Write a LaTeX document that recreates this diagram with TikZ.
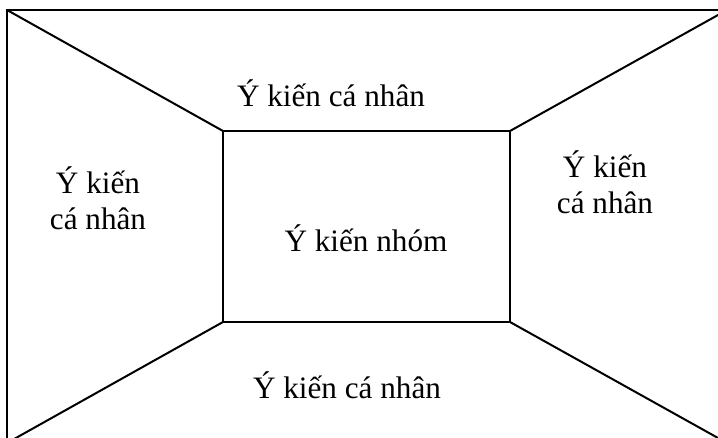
\documentclass[tikz,border=0pt]{standalone}
\usepackage{fontspec}
\setmainfont{Liberation Serif}
\begin{document}
\begin{tikzpicture}[x=0.75pt,y=-0.75pt,line width=1.5pt,
  lbl/.style={font=\fontsize{23.4}{27.5}\selectfont,inner sep=0pt,align=center,anchor=base}]
\useasboundingbox (0,0) rectangle (718,438);
\clip (0,0) rectangle (718,438);
\coordinate (o1) at (7,10);
\coordinate (o2) at (727,10);
\coordinate (o3) at (727,443);
\coordinate (o4) at (7,443);
\coordinate (i1) at (223,131);
\coordinate (i2) at (510,131);
\coordinate (i3) at (510,322);
\coordinate (i4) at (223,322);
\draw (o1) rectangle (o3);
\draw (i1) rectangle (i3);
\draw (o1) -- (i1);
\draw (o2) -- (i2);
\draw (o3) -- (i3);
\draw (o4) -- (i4);
\node[lbl] (top) at (331,107) {Ý kiến cá nhân};
\node[lbl] (mid) at (366,252) {Ý kiến nhóm};
\node[lbl] (left) at (98,230) {Ý kiến\\cá nhân};
\node[lbl] (right) at (605,214) {Ý kiến\\cá nhân};
\node[lbl] (bot) at (347,399) {Ý kiến cá nhân};
\end{tikzpicture}
\end{document}
